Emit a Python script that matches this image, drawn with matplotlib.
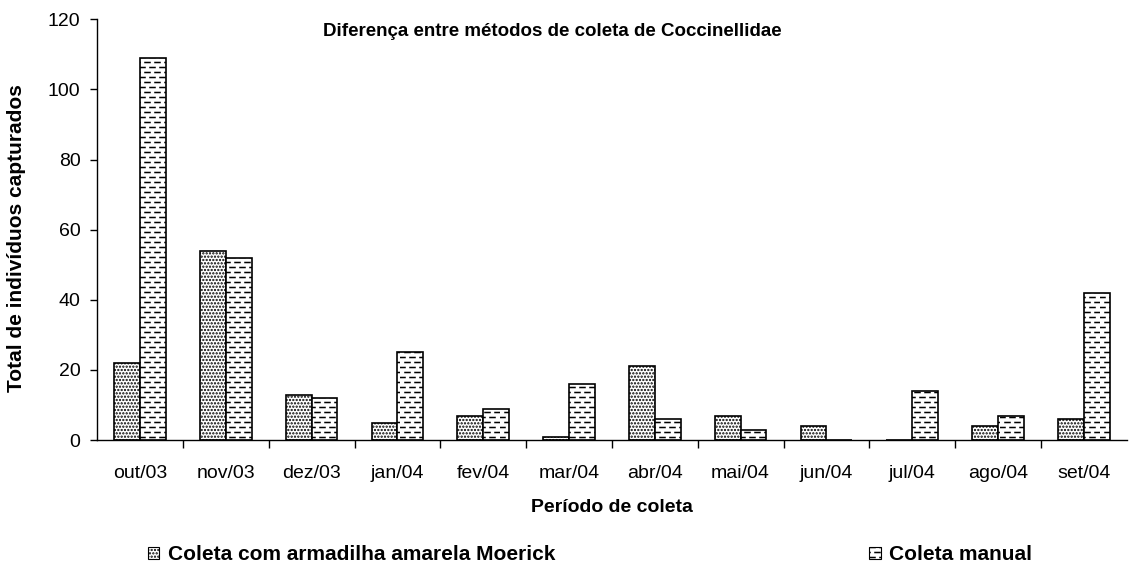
import numpy as np
import matplotlib
matplotlib.use("Agg")
from matplotlib import pyplot as plt
from matplotlib import hatch as mhatch
from matplotlib.path import Path
from matplotlib.patches import Patch

periodos = ["out/03", "nov/03", "dez/03", "jan/04", "fev/04", "mar/04",
            "abr/04", "mai/04", "jun/04", "jul/04", "ago/04", "set/04"]
armadilha = [22, 54, 13, 5, 7, 1, 21, 7, 4, 0, 4, 6]
manual = [109, 52, 12, 25, 9, 16, 6, 3, 0, 14, 7, 42]


class DashHatch(mhatch.HatchPatternBase):
    """'-' drawn as staggered short dashes instead of full lines"""
    def __init__(self, hatch, density):
        n = hatch.count('-')
        self.num_rows = 20 * n if n else 0
        self.num_dash = 10
        self.num_vertices = self.num_rows * self.num_dash * 2

    def set_vertices_and_codes(self, vertices, codes):
        ys = (np.arange(self.num_rows) + 0.5) / self.num_rows
        step = 1.0 / self.num_dash
        i = 0
        for r, y in enumerate(ys):
            off = 0.0 if r % 2 == 0 else step / 2
            for k in range(self.num_dash):
                x0 = off + k * step
                vertices[i] = (x0, y)
                vertices[i + 1] = (x0 + step * 0.5, y)
                codes[i] = Path.MOVETO
                codes[i + 1] = Path.LINETO
                i += 2


mhatch._hatch_types = [DashHatch if t is mhatch.HorizontalHatch else t
                       for t in mhatch._hatch_types]

plt.rcParams['font.family'] = ['Liberation Sans', 'DejaVu Sans']
plt.rcParams['hatch.linewidth'] = 1.1

fig = plt.figure(figsize=(11.29, 5.65), dpi=100)
ax = fig.add_axes([0.086, 0.221, 0.912, 0.745])

x = np.arange(len(periodos))
w = 0.3
ax.bar(x - w / 2, armadilha, w, color='white', edgecolor='black',
       linewidth=1.2, hatch='.....')
ax.bar(x + w / 2, manual, w, color='white', edgecolor='black',
       linewidth=1.2, hatch='-')

ax.set_xlim(-0.5, len(periodos) - 0.5)
ax.set_ylim(0, 120)
ax.set_yticks(range(0, 121, 20))
ax.set_xticks(x)
ax.set_xticklabels(periodos, fontsize=14)
ax.set_xticks(np.arange(0.5, len(periodos) - 0.5, 1), minor=True)
ax.tick_params(axis='x', which='major', length=0, pad=18)
ax.tick_params(axis='x', which='minor', length=6, width=1, direction='out')
ax.tick_params(axis='y', labelsize=14, length=5, width=1, direction='out', pad=7)
for s in ['top', 'right']:
    ax.spines[s].set_visible(False)
ax.spines['left'].set_linewidth(1)
ax.spines['bottom'].set_linewidth(1)

ax.set_title("Diferença entre métodos de coleta de Coccinellidae",
             fontsize=13.5, fontweight='bold', x=0.442, y=0.94)
ax.set_xlabel("Período de coleta", fontsize=14, fontweight='bold')
ax.set_ylabel("Total de indivíduos capturados", fontsize=15, fontweight='bold')
ax.xaxis.set_label_coords(0.5, -0.14)
ax.yaxis.set_label_coords(-0.069, 0.48)

h1 = Patch(facecolor='white', edgecolor='black', hatch='.....', linewidth=0.8)
h2 = Patch(facecolor='white', edgecolor='black', hatch='-', linewidth=0.8)
leg_kw = dict(frameon=False, handlelength=0.55, handleheight=0.55,
              handletextpad=0.4, borderpad=0, borderaxespad=0,
              prop={'weight': 'bold', 'size': 15})
fig.legend(handles=[h1], labels=["Coleta com armadilha amarela Moerick"],
           loc='center left', bbox_to_anchor=(0.131, 0.018), **leg_kw)
fig.legend(handles=[h2], labels=["Coleta manual"],
           loc='center left', bbox_to_anchor=(0.770, 0.018), **leg_kw)

fig.savefig("out.png", dpi=100)
